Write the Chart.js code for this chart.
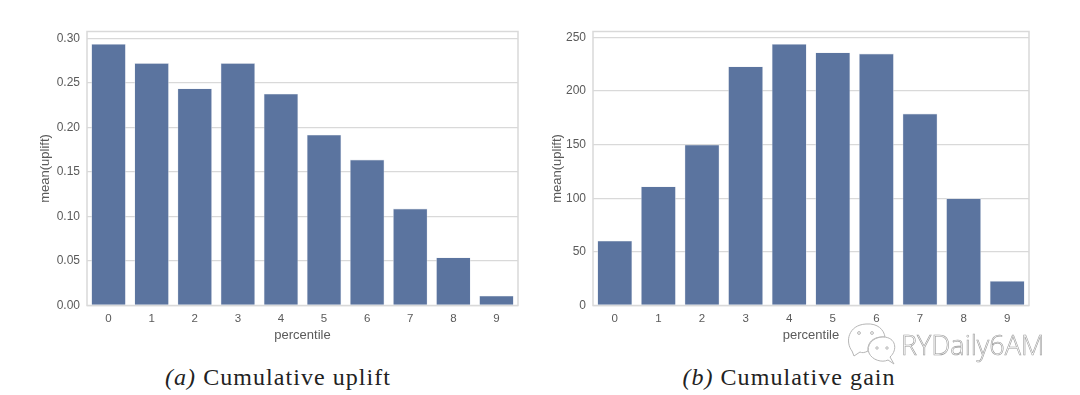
<!DOCTYPE html>
<html>
<head>
<meta charset="utf-8">
<script src="https://cdn.jsdelivr.net/npm/chart.js@4"></script>
<style>
 html,body{margin:0;padding:0;background:#fff;width:1080px;height:395px;overflow:hidden;}
 .grafico{position:absolute;top:0;width:540px;height:345px;}
 canvas{filter:blur(0.35px);}
 .leyenda{position:absolute;top:364px;font-family:"Liberation Serif",serif;font-size:24px;color:#222;white-space:nowrap;transform:translateX(-50%);letter-spacing:1.05px;}
 .marca{position:absolute;left:901px;top:326px;font-family:"Open Sans",sans-serif;font-size:27px;font-weight:300;color:#fff;-webkit-text-stroke:0.6px #9a9a9a;white-space:nowrap;}
 .icono{position:absolute;left:846px;top:322px;}
</style>
</head>
<body>
<div class="grafico" style="left:0"><canvas id="canvasUplift"></canvas></div>
<div class="grafico" style="left:540px"><canvas id="canvasGain"></canvas></div>
<div class="leyenda" style="left:278px"><i>(a)</i> Cumulative uplift</div>
<div class="leyenda" style="left:789px"><i>(b)</i> Cumulative gain</div>
<svg class="icono" width="52" height="44" fill="#fff" stroke="#b5b5b5" stroke-width="1">
 <path d="M6 29 C-1 20 2 3 20 2 C32 1 38 8 39 15 C28 14 21 20 22 29 C18 31 16 31 14 30 L8 34 Z"/>
 <path d="M44 35 C52 28 50 15 37 15 C26 15 20 24 23 31 C26 38 36 41 42 38 L48 42 Z"/>
 <circle cx="13" cy="11" r="1.4"/><circle cx="26" cy="11" r="1.4"/><circle cx="31" cy="26" r="1.2"/><circle cx="41" cy="26" r="1.2"/>
</svg>
<div class="marca">RYDaily6AM</div>
<script>
//Datos
const percentiles = ["0","1","2","3","4","5","6","7","8","9"];
const valoresUplift = [0.294,0.2725,0.244,0.2725,0.238,0.192,0.164,0.109,0.054,0.011];
const valoresGain = [60.5,111,150,223,244,236,235,179,100,23];
const maxUplift = 0.308;
const maxGain = 255.6;

const COLOR_BARRA = "#5b749f";
const COLOR_GRILLA = "#d9d9d9";
const COLOR_TEXTO = "#5a5a5a";
const FUENTE = "'Liberation Sans', Arial, sans-serif";

//Plugin que dibuja el recuadro alrededor del area del grafico
const recuadro = {
 id: "recuadro",
 beforeDatasetsDraw(chart) {
  const a = chart.chartArea;
  const ctx = chart.ctx;
  ctx.save();
  ctx.strokeStyle = COLOR_GRILLA;
  ctx.lineWidth = 1.5;
  ctx.strokeRect(a.left, a.top, a.right - a.left, a.bottom - a.top);
  ctx.restore();
 }
};

//Funcion que me genera cada grafico de barras
function generarGrafico(id, valores, maximo, paso, decimales, anchoEje, margenDerecho, margenTitulo) {
 new Chart(document.getElementById(id), {
  type: "bar",
  data: {
   labels: percentiles,
   datasets: [{
    data: valores,
    backgroundColor: COLOR_BARRA,
    borderColor: "#dfe4ec",
    borderWidth: 0.6,
    categoryPercentage: 1,
    barPercentage: 0.8
   }]
  },
  options: {
   responsive: false,
   animation: false,
   layout: { padding: { top: 31.5, right: margenDerecho, left: 0, bottom: 0 } },
   plugins: { legend: { display: false }, tooltip: { enabled: false } },
   scales: {
    x: {
     afterFit(eje) { eje.height = 39.5; },
     grid: { display: false, drawTicks: false },
     border: { display: false },
     ticks: { color: COLOR_TEXTO, font: { family: FUENTE, size: 11.5 }, padding: 6, maxRotation: 0 },
     title: { display: true, text: "percentile", color: COLOR_TEXTO, font: { family: FUENTE, size: 13 }, padding: { top: 0, bottom: 2 } }
    },
    y: {
     min: 0,
     max: maximo,
     afterFit(eje) { eje.width = anchoEje; },
     grid: { color: COLOR_GRILLA, lineWidth: 1.3, drawTicks: false },
     border: { display: false },
     ticks: {
      stepSize: paso,
      includeBounds: false,
      color: COLOR_TEXTO,
      font: { family: FUENTE, size: 12 },
      padding: 7,
      callback: function(valor) { return valor.toFixed(decimales); }
     },
     title: { display: true, text: "mean(uplift)", color: COLOR_TEXTO, font: { family: FUENTE, size: 13 }, padding: { top: margenTitulo, bottom: 0 } }
    }
   }
  },
  plugins: [recuadro]
 });
}

document.querySelectorAll("canvas").forEach(function(c) { c.width = 540; c.height = 345; });
generarGrafico("canvasUplift", valoresUplift, maxUplift, 0.05, 2, 87, 22, 38);
generarGrafico("canvasGain", valoresGain, maxGain, 50, 0, 53, 51, 10);
</script>
</body>
</html>
